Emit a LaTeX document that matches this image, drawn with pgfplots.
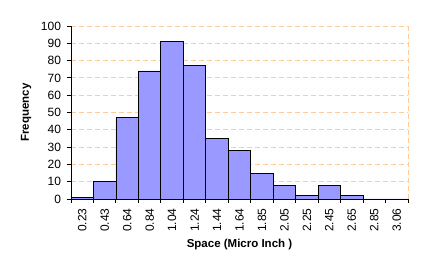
\documentclass[border=0pt]{standalone}
\usepackage{pgfplots}
\pgfplotsset{compat=1.18}
\usepackage{fontspec}
\setmainfont{Liberation Sans}
\definecolor{barfill}{HTML}{9999FF}
\definecolor{gridc}{HTML}{FFCC99}
\begin{document}
\begin{tikzpicture}[x=1pt,y=1pt]
\useasboundingbox (-71,-73) rectangle (352,199);
\begin{axis}[
  at={(0,0)}, anchor=south west,
  scale only axis, width=337pt, height=173pt,
  xmin=-0.5, xmax=14.5, ymin=0, ymax=100,
  enlargelimits=false,
  /pgf/number format/assume math mode=true,
  ytick={0,10,...,100},
  xtick={0,...,14},
  xticklabels={0.23,0.43,0.64,0.84,1.04,1.24,1.44,1.64,1.85,2.05,2.25,2.45,2.65,2.85,3.06},
  minor xtick={-0.5,0.5,...,14.5},
  axis x line*=bottom, axis y line*=left,
  axis line style={-, black, line width=0.9pt},
  tick align=outside,
  major tick length=4pt, minor tick length=4pt,
  major x tick style={draw=none},
  minor x tick style={black, line width=0.9pt},
  major y tick style={black, line width=0.9pt},
  ymajorgrids,
  major grid style={gridc, line width=0.8pt, dash pattern=on 5pt off 3pt},
  extra x ticks={14.5}, extra x tick labels={},
  extra x tick style={grid=major, major x tick style={draw=none}},
  tick label style={font=\fontsize{12}{14}\selectfont},
  x tick label style={rotate=90, anchor=east},
  xticklabel shift=2pt,
  yticklabel shift=2.5pt,
  xlabel={\textbf{Space (Micro Inch )}},
  ylabel={\textbf{Frequency}},
  label style={font=\fontsize{11.5}{13}\selectfont},
  xlabel style={at={(axis description cs:0.5,-0.266)}, anchor=center},
  ylabel style={at={(axis description cs:-0.1335,0.5)}, anchor=center, rotate=0},
]
\addplot[ybar, bar width=1, fill=barfill, draw=black, line width=0.8pt] coordinates {
(0,1) (1,10) (2,47) (3,74) (4,91) (5,77) (6,35) (7,28) (8,15) (9,8) (10,2) (11,8) (12,2) (13,0) (14,0)
};
\end{axis}
\end{tikzpicture}
\end{document}
